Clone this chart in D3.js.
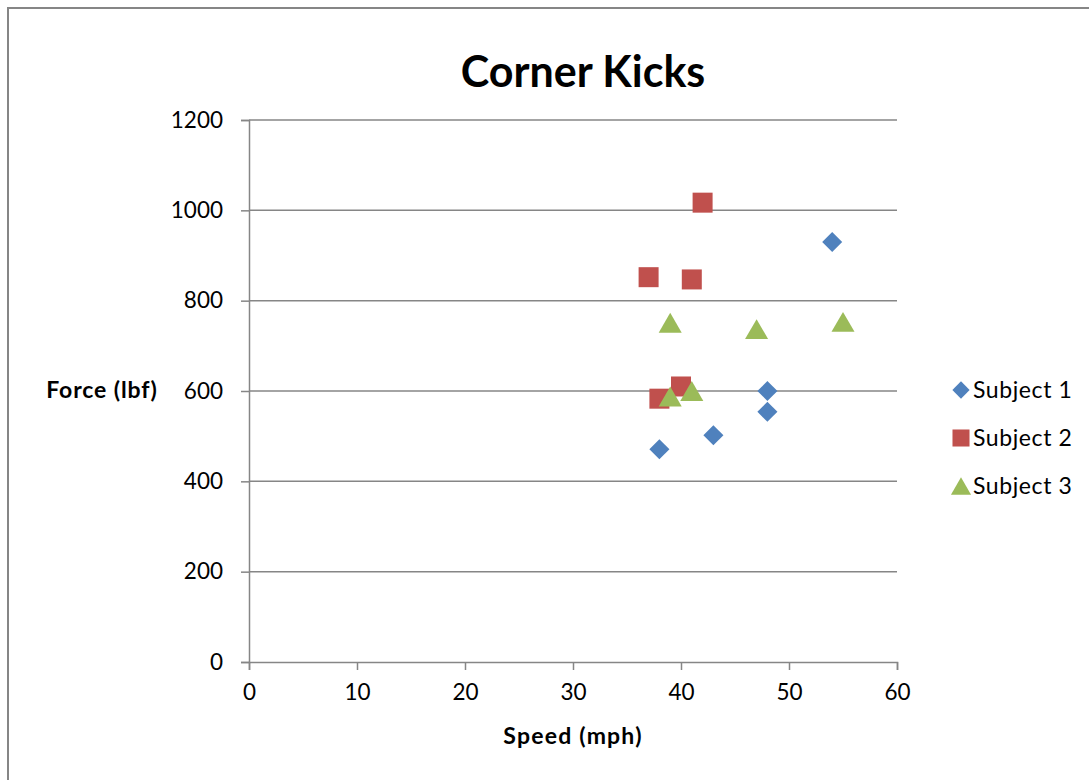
<!DOCTYPE html>
<html>
<head>
<meta charset="utf-8">
<script src="https://cdn.jsdelivr.net/npm/d3@7"></script>
<style>
  html, body { margin: 0; padding: 0; background: #fff; }
  svg { display: block; font-family: Lato, "Open Sans", sans-serif; }
</style>
</head>
<body>
<svg id="chart" width="1089" height="780"></svg>
<script>
// Corner kick measurements: speed (mph) vs force (lbf) for three subjects
const seriesNames = ["Subject 1", "Subject 2", "Subject 3"];
const subject1Speed = [38, 43, 48, 48, 54];
const subject1Force = [471, 502, 554, 600, 930];
const subject2Speed = [37, 38, 40, 41, 42];
const subject2Force = [852, 583, 610, 847, 1017];
const subject3Speed = [39, 39, 41, 47, 55];
const subject3Force = [751, 588, 600, 737, 753];
const xTicks = [0, 10, 20, 30, 40, 50, 60];
const yTicks = [0, 200, 400, 600, 800, 1000, 1200];

const colors = ["#4F81BD", "#C0504D", "#9BBB59"];

// triangle centred on its bounding box (marker point sits mid-height)
const boxTriangle = {
  draw(context, size) {
    const s = Math.sqrt(size * 4 / Math.sqrt(3));
    const h = s * Math.sqrt(3) / 2;
    context.moveTo(0, -h / 2);
    context.lineTo(s / 2, h / 2);
    context.lineTo(-s / 2, h / 2);
    context.closePath();
  }
};
const shapes = [d3.symbolDiamond2, d3.symbolSquare, boxTriangle];

const series = [
  { name: seriesNames[0], speed: subject1Speed, force: subject1Force },
  { name: seriesNames[1], speed: subject2Speed, force: subject2Force },
  { name: seriesNames[2], speed: subject3Speed, force: subject3Force }
];

const svg = d3.select("#chart");
const grid = "#868686";

// outer chart frame
svg.append("rect")
  .attr("x", 8).attr("y", 8)
  .attr("width", 1200).attr("height", 900)
  .attr("fill", "none").attr("stroke", grid).attr("stroke-width", 2);

const x = d3.scaleLinear().domain([0, 60]).range([249, 897]);
const y = d3.scaleLinear().domain([0, 1200]).range([662, 120]);

// horizontal gridlines
svg.append("g").selectAll("line")
  .data(yTicks.filter(v => v > 0))
  .join("line")
  .attr("x1", x(0)).attr("x2", x(60))
  .attr("y1", d => y(d)).attr("y2", d => y(d))
  .attr("stroke", grid).attr("stroke-width", 1.5);

// y axis
const yAxis = svg.append("g")
  .attr("transform", `translate(${x(0)},0)`)
  .call(d3.axisLeft(y).tickValues(yTicks).tickSize(8).tickPadding(18).tickFormat(d3.format("d")));
yAxis.select(".domain").attr("stroke", grid).attr("stroke-width", 1.5);
yAxis.selectAll(".tick line").attr("stroke", grid).attr("stroke-width", 1.5);
yAxis.selectAll(".tick text")
  .attr("font-size", 22.5).attr("fill", "#000")
  .attr("font-family", "Lato, sans-serif");

// x axis
const xAxis = svg.append("g")
  .attr("transform", `translate(0,${y(0)})`)
  .call(d3.axisBottom(x).tickValues(xTicks).tickSize(8).tickPadding(14).tickFormat(d3.format("d")));
xAxis.select(".domain").attr("stroke", grid).attr("stroke-width", 1.5);
xAxis.selectAll(".tick line").attr("stroke", grid).attr("stroke-width", 1.5);
xAxis.selectAll(".tick text")
  .attr("font-size", 22.5).attr("fill", "#000")
  .attr("font-family", "Lato, sans-serif");

// markers
const markerSizes = [256, 400, 230];
series.forEach((s, i) => {
  const pts = s.speed.map((v, k) => ({ sx: v, fy: s.force[k] }));
  svg.append("g").selectAll("path")
    .data(pts)
    .join("path")
    .attr("d", d3.symbol().type(shapes[i]).size(markerSizes[i]))
    .attr("transform", d => `translate(${x(d.sx)},${y(d.fy)})`)
    .attr("fill", colors[i]);
});

// title
svg.append("text")
  .attr("x", 583).attr("y", 87)
  .attr("text-anchor", "middle")
  .attr("font-size", 43).attr("font-weight", "bold")
  .text("Corner Kicks");

// axis titles
svg.append("text")
  .attr("x", 102).attr("y", 398)
  .attr("text-anchor", "middle")
  .attr("font-size", 23).attr("font-weight", "bold")
  .attr("letter-spacing", 0.9)
  .text("Force (lbf)");

svg.append("text")
  .attr("x", 573).attr("y", 744)
  .attr("text-anchor", "middle")
  .attr("font-size", 23).attr("font-weight", "bold")
  .attr("letter-spacing", 1.2)
  .text("Speed (mph)");

// legend
const legend = svg.append("g");
const legendY = [390, 438, 486];
const legendSizes = [190, 290, 175];
series.forEach((s, i) => {
  legend.append("path")
    .attr("d", d3.symbol().type(shapes[i]).size(legendSizes[i]))
    .attr("transform", `translate(961,${legendY[i]})`)
    .attr("fill", colors[i]);
  legend.append("text")
    .attr("x", 973).attr("y", legendY[i] + 8)
    .attr("font-size", 23)
    .attr("letter-spacing", 0.6)
    .text(s.name);
});
</script>
</body>
</html>
